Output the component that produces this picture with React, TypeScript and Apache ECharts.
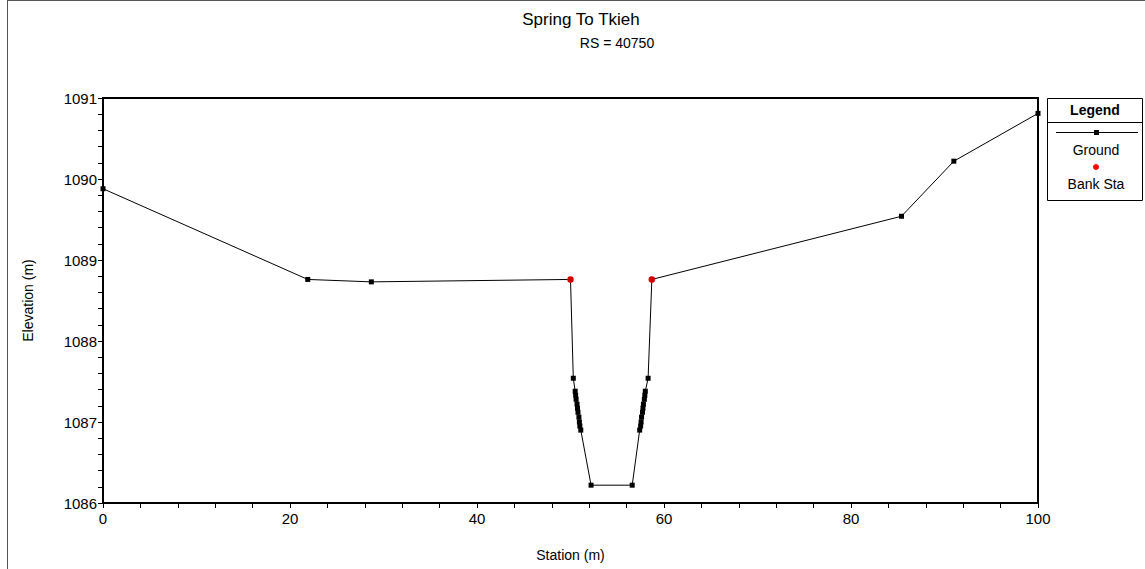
import React, { useEffect, useRef } from "react";
import * as echarts from "echarts";

const titleText = "Spring To Tkieh";
const subtitleText = "RS = 40750";
const xAxisName = "Station (m)";
const yAxisName = "Elevation (m)";

const groundStation = [
  0, 21.9, 28.7, 50.0, 50.3,
  50.5, 50.55, 50.6, 50.7, 50.75, 50.8, 50.9, 50.95, 51.0, 51.1,
  52.2, 56.6,
  57.4, 57.5, 57.55, 57.6, 57.7, 57.75, 57.8, 57.9, 57.95, 58.0,
  58.3, 58.7, 85.4, 91.0, 100,
];
const groundElev = [
  1089.88, 1088.76, 1088.73, 1088.76, 1087.54,
  1087.38, 1087.33, 1087.28, 1087.22, 1087.17, 1087.12, 1087.06, 1087.0, 1086.95, 1086.9,
  1086.22, 1086.22,
  1086.9, 1086.95, 1087.0, 1087.06, 1087.12, 1087.17, 1087.22, 1087.28, 1087.33, 1087.38,
  1087.54, 1088.76, 1089.54, 1090.22, 1090.81,
];
const bankStation = [50.0, 58.7];
const bankElev = [1088.76, 1088.76];

const legendTitle = "Legend";
const legendNames = ["Ground", "Bank Sta"];

const FONT = "Liberation Sans, Arial, sans-serif";

export default function App() {
  const ref = useRef<HTMLDivElement>(null);
  useEffect(() => {
    if (!ref.current) return;
    const chart = echarts.init(ref.current, undefined, { renderer: "svg" });
    const ground = groundStation.map((s, i) => [s, groundElev[i]]);
    const bank = bankStation.map((s, i) => [s, bankElev[i]]);
    chart.setOption({
      animation: false,
      backgroundColor: "#fff",
      textStyle: { fontFamily: FONT },
      title: [
        {
          text: titleText,
          left: 576,
          top: 6,
          textAlign: "center",
          textStyle: { fontSize: 17, fontWeight: "normal", color: "#000", fontFamily: FONT },
        },
        {
          text: subtitleText,
          left: 612,
          top: 31,
          textAlign: "center",
          textStyle: { fontSize: 14, fontWeight: "normal", color: "#000", fontFamily: FONT },
        },
      ],
      grid: {
        left: 103,
        right: 107,
        top: 98,
        bottom: 66,
        show: true,
        borderColor: "#000",
        borderWidth: 2,
        backgroundColor: "transparent",
      },
      xAxis: {
        type: "value",
        min: 0,
        max: 100,
        interval: 20,
        name: xAxisName,
        nameLocation: "middle",
        nameGap: 45,
        nameTextStyle: { fontSize: 14, color: "#000", fontFamily: FONT },
        axisLine: { show: true, onZero: false, lineStyle: { color: "#000", width: 2 } },
        axisTick: { show: true, length: 5, lineStyle: { color: "#000" } },
        minorTick: { show: true, splitNumber: 5, length: 5, lineStyle: { color: "#000" } },
        axisLabel: { fontSize: 15, color: "#000", margin: 8, fontFamily: FONT },
        splitLine: { show: false },
      },
      yAxis: {
        type: "value",
        min: 1086,
        max: 1091,
        interval: 1,
        name: yAxisName,
        nameLocation: "middle",
        nameGap: 68,
        nameRotate: 90,
        nameTextStyle: { fontSize: 14, color: "#000", fontFamily: FONT },
        axisLine: { show: true, onZero: false, lineStyle: { color: "#000", width: 2 } },
        axisTick: { show: true, length: 5, lineStyle: { color: "#000" } },
        minorTick: { show: true, splitNumber: 5, length: 5, lineStyle: { color: "#000" } },
        axisLabel: {
          fontSize: 15,
          color: "#000",
          margin: 6,
          fontFamily: FONT,
          formatter: (v: number) => String(v),
        },
        splitLine: { show: false },
      },
      series: [
        {
          name: legendNames[0],
          type: "line",
          data: ground,
          symbol: "rect",
          symbolSize: 5,
          showAllSymbol: true,
          lineStyle: { color: "#000", width: 1 },
          itemStyle: { color: "#000" },
          z: 2,
        },
        {
          name: legendNames[1],
          type: "scatter",
          data: bank,
          symbol: "circle",
          symbolSize: 7,
          itemStyle: { color: "#ff0000" },
          z: 3,
        },
      ],
      graphic: [
        { type: "rect", shape: { x: 7, y: 0, width: 1, height: 569 }, style: { fill: "#555" }, z: 100 },
        { type: "rect", shape: { x: 7, y: 0, width: 1138, height: 1 }, style: { fill: "#555" }, z: 100 },
        {
          type: "rect",
          shape: { x: 1047.5, y: 98.5, width: 95, height: 102 },
          style: { fill: "#fff", stroke: "#000", lineWidth: 1 },
        },
        { type: "line", shape: { x1: 1047.5, y1: 122.5, x2: 1142.5, y2: 122.5 }, style: { stroke: "#000", lineWidth: 1 } },
        {
          type: "text",
          x: 1095,
          y: 110,
          style: { text: legendTitle, font: "bold 14px " + FONT, fill: "#000", align: "center", verticalAlign: "middle" },
        },
        { type: "line", shape: { x1: 1056, y1: 132.5, x2: 1138, y2: 132.5 }, style: { stroke: "#000", lineWidth: 1 } },
        { type: "rect", shape: { x: 1094, y: 130, width: 5, height: 5 }, style: { fill: "#000" } },
        {
          type: "text",
          x: 1096,
          y: 150,
          style: { text: legendNames[0], font: "14px " + FONT, fill: "#000", align: "center", verticalAlign: "middle" },
        },
        { type: "circle", shape: { cx: 1096, cy: 167, r: 3 }, style: { fill: "#ff0000" } },
        {
          type: "text",
          x: 1096,
          y: 184,
          style: { text: legendNames[1], font: "14px " + FONT, fill: "#000", align: "center", verticalAlign: "middle" },
        },
      ],
    });
    return () => chart.dispose();
  }, []);
  return <div ref={ref} style={{ position: "fixed", left: 0, top: 0, width: 1145, height: 569 }} />;
}
